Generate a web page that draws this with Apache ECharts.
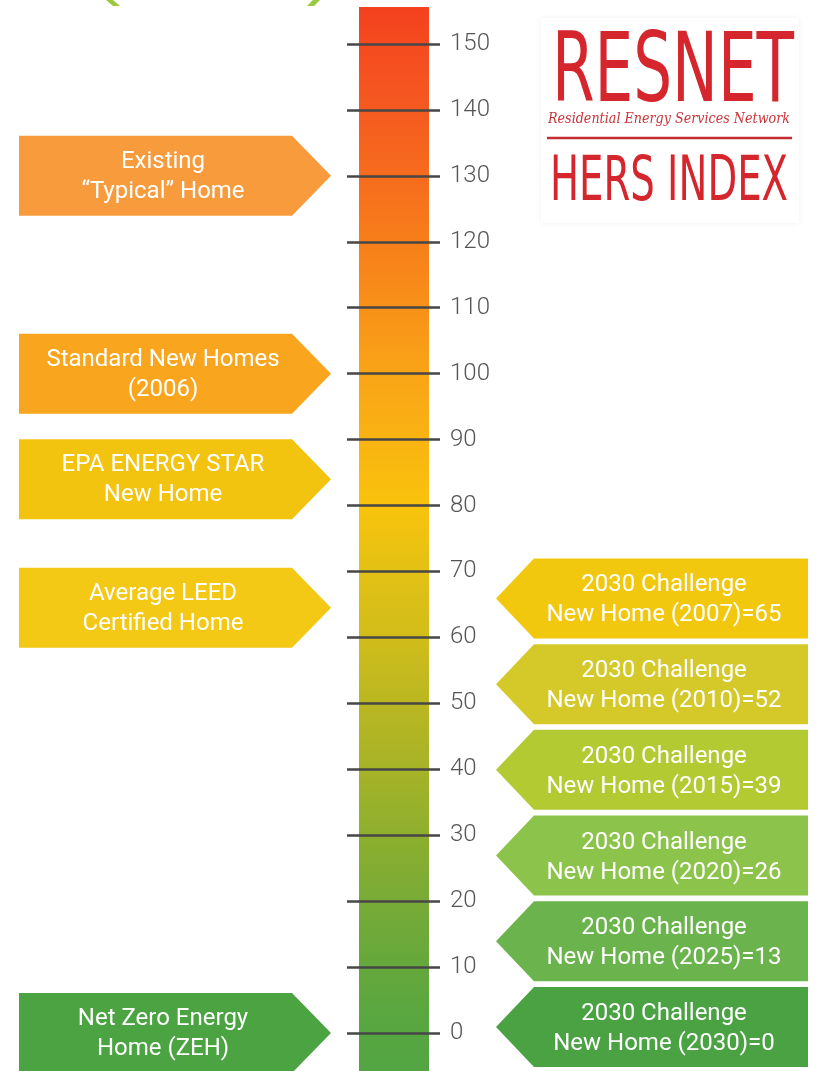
<!DOCTYPE html>
<html>
<head>
<meta charset="utf-8">
<title>HERS Index</title>
<script src="https://cdn.jsdelivr.net/npm/echarts@6/dist/echarts.min.js"></script>
<style>
  html, body { margin: 0; padding: 0; background: #fff; }
  #chart { width: 827px; height: 1071px; }
</style>
</head>
<body>
<div id="chart"></div>
<script>

// HERS scale
var scoreMin = 0;
var scoreMax = 150;
var scoreStep = 10;
var barRange = [-6, 155.6];

// left column: reference homes
var leftNames = ['Existing\n\u201cTypical\u201d Home', 'Standard New Homes\n(2006)', 'EPA ENERGY STAR\nNew Home', 'Average LEED\nCertified Home', 'Net Zero Energy\nHome (ZEH)'];
var leftScores = [130, 100, 84, 64.5, 0];
var leftColors = ['#F89B3C', '#F9A61E', '#F2C30F', '#F3C915', '#4BA342'];

// right column: 2030 challenge targets
var rightNames = [
	'2030 Challenge\nNew Home (2007)=65',
	'2030 Challenge\nNew Home (2010)=52',
	'2030 Challenge\nNew Home (2015)=39',
	'2030 Challenge\nNew Home (2020)=26',
	'2030 Challenge\nNew Home (2025)=13',
	'2030 Challenge\nNew Home (2030)=0'
];
var rightScores = [65, 52, 39, 26, 13, 0];
var rightColors = ['#F2C80F', '#D5C929', '#B3CA32', '#8CC44B', '#6BB34D', '#4AA243'];

// colour of the thermometer bar along the scale
var barStops = [
	[155.6, '#F4411F'], [140, '#F55A20'], [120, '#F77E1A'], [100, '#F9A417'],
	[80, '#F9C30C'], [70, '#E3C114'], [60, '#D1BD1A'], [50, '#BAB722'],
	[40, '#A6B327'], [30, '#8DAF2E'], [20, '#78AB36'], [10, '#65A83C'],
	[0, '#56A641'], [-6, '#52A543']
];

var labelFont = 'Roboto';
var rightShift = -6;   // right boxes sit a few px above their score

var myChart = echarts.init(document.getElementById('chart'));

// measure helper for scaling the logo text
var measureCtx = document.createElement('canvas').getContext('2d');
function fitScale(text, font, width) {
	measureCtx.font = font;
	return width / measureCtx.measureText(text).width;
}

function barItem(params, api) {
	var yTop = api.coord([0, api.value(2)])[1];
	var yBot = api.coord([0, api.value(1)])[1];
	var span = barRange[1] - barRange[0];
	var stops = barStops.map(function (s) {
		return { offset: (barRange[1] - s[0]) / span, color: s[1] };
	});
	return {
		type: 'rect',
		shape: { x: 359, y: yTop, width: 70, height: yBot - yTop },
		style: { fill: new echarts.graphic.LinearGradient(0, 0, 0, 1, stops) }
	};
}

function leftItem(params, api) {
	var y = api.coord([0, api.value(1)])[1];
	var h = 40;
	return {
		type: 'group',
		children: [
			{
				type: 'polygon',
				shape: { points: [[19, y - h], [292, y - h], [331, y], [292, y + h], [19, y + h]] },
				style: { fill: leftColors[params.dataIndex] }
			},
			{
				type: 'text',
				x: 163, y: y + 1,
				style: {
					text: leftNames[params.dataIndex], fill: '#fff',
					fontFamily: labelFont, fontSize: 24, lineHeight: 30,
					align: 'center', verticalAlign: 'middle'
				}
			}
		]
	};
}

function rightItem(params, api) {
	var y = api.coord([0, api.value(1)])[1] + rightShift;
	var h = 40;
	return {
		type: 'group',
		children: [
			{
				type: 'polygon',
				shape: { points: [[808, y - h], [534, y - h], [496, y], [534, y + h], [808, y + h]] },
				style: { fill: rightColors[params.dataIndex] }
			},
			{
				type: 'text',
				x: 664, y: y + 2,
				style: {
					text: rightNames[params.dataIndex], fill: '#fff',
					fontFamily: labelFont, fontSize: 24, lineHeight: 30,
					align: 'center', verticalAlign: 'middle'
				}
			}
		]
	};
}

// logo text
var logoFont1 = '97px "DejaVu Sans Condensed", "DejaVu Sans"';
var logoFont2 = 'italic 15px "DejaVu Serif Condensed", "DejaVu Serif"';
var logoFont3 = '62px "DejaVu Sans Condensed", "DejaVu Sans"';
var logoRed = '#D6262D';

var option = {
	backgroundColor: '#fff',
	animation: false,
	grid: { left: 347, right: 300, top: 44, bottom: 38 },
	xAxis: { type: 'value', min: 0, max: 1, show: false },
	yAxis: {
		type: 'value',
		min: scoreMin,
		max: scoreMax,
		interval: scoreStep,
		z: 10,
		axisLine: { show: false },
		splitLine: { show: false },
		axisTick: { show: true, inside: true, length: 93, lineStyle: { color: '#474747', width: 2.5 } },
		axisLabel: { inside: true, margin: 103, fontFamily: labelFont, fontWeight: 300, fontSize: 24, color: '#555' }
	},
	graphic: [
		// bottom of the cut-off green title brackets
		{ type: 'polygon', shape: { points: [[106, 0], [113, 0], [120, 6], [113, 6]] }, style: { fill: '#9ACA3C' } },
		{ type: 'polygon', shape: { points: [[313, 0], [320, 0], [314, 6], [307, 6]] }, style: { fill: '#9ACA3C' } },
		// logo card
		{ type: 'rect', shape: { x: 541, y: 18, width: 258, height: 205 }, style: { fill: '#fff', shadowBlur: 6, shadowColor: 'rgba(0,0,0,0.06)' } },
		{
			type: 'text', x: 552, y: 76, scaleX: fitScale('RESNET', logoFont1, 242),
			style: { text: 'RESNET', font: logoFont1, fill: logoRed, align: 'left', verticalAlign: 'middle' }
		},
		{
			type: 'text', x: 548, y: 119, scaleX: fitScale('Residential Energy Services Network', logoFont2, 242),
			style: { text: 'Residential Energy Services Network', font: logoFont2, fill: '#C8353A', align: 'left', verticalAlign: 'middle' }
		},
		{ type: 'line', shape: { x1: 547, y1: 138, x2: 792, y2: 138 }, style: { stroke: '#C62E33', lineWidth: 2.5 } },
		{
			type: 'text', x: 550, y: 184, scaleX: fitScale('HERS INDEX', logoFont3, 238),
			style: { text: 'HERS INDEX', font: logoFont3, fill: logoRed, align: 'left', verticalAlign: 'middle' }
		}
	],
	series: [
		{
			name: 'HERS bar',
			type: 'custom',
			clip: false,
			z: 1,
			renderItem: barItem,
			encode: { x: 0, y: [1, 2] },
			data: [[0, barRange[0], barRange[1]]]
		},
		{
			name: 'Reference homes',
			type: 'custom',
			clip: false,
			renderItem: leftItem,
			encode: { x: 0, y: 1 },
			data: leftScores.map(function (v) { return [0, v]; })
		},
		{
			name: '2030 Challenge',
			type: 'custom',
			clip: false,
			renderItem: rightItem,
			encode: { x: 0, y: 1 },
			data: rightScores.map(function (v) { return [0, v]; })
		}
	]
};

myChart.setOption(option);

</script>
</body>
</html>
